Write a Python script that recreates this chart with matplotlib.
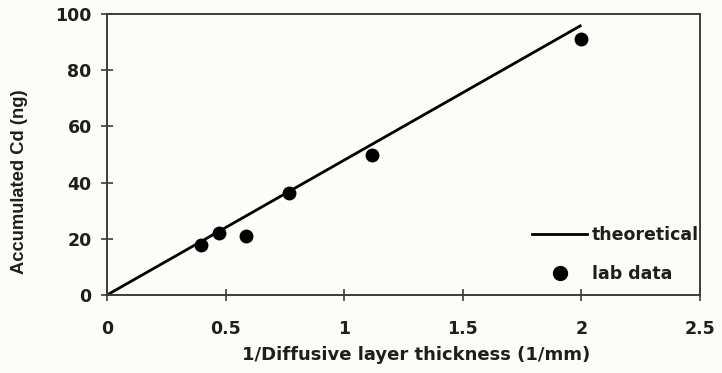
import matplotlib
matplotlib.use("Agg")
import matplotlib.pyplot as plt
from matplotlib.lines import Line2D

plt.rcParams['font.family'] = ['DejaVu Sans']

# Data
theory_x = [0, 2.0]
theory_y = [0, 96]
lab_x = [0.395, 0.473, 0.585, 0.767, 1.117, 2.0]
lab_y = [17.8, 22.0, 21.0, 36.2, 49.8, 91.0]
xticks = [0, 0.5, 1, 1.5, 2, 2.5]
xticklabels = ['0', '0.5', '1', '1.5', '2', '2.5']
yticks = [0, 20, 40, 60, 80, 100]

W, H = 722, 373
TXT = '#1e1e1e'
fig = plt.figure(figsize=(W/100, H/100), dpi=100, facecolor='#fcfcf8')
ax = fig.add_axes([107/W, 1-295/H, (700-107)/W, (295-14)/H])
ax.set_facecolor('#fcfcf8')

ax.plot(theory_x, theory_y, color='black', lw=2, solid_capstyle='butt')
ax.scatter(lab_x, lab_y, s=100, color='black', zorder=3, linewidths=0)

ax.set_xlim(0, 2.5)
ax.set_ylim(0, 100)
ax.set_xticks(xticks)
ax.set_xticklabels(xticklabels)
ax.set_yticks(yticks)
for s in ax.spines.values():
    s.set_color('#3c3c3c')
    s.set_linewidth(1.4)
ax.tick_params(direction='inout', length=8, width=1.2, color='#3c3c3c',
               labelsize=12.5)
ax.tick_params(axis='x', pad=14)
ax.tick_params(axis='y', pad=7)
for lab in ax.get_xticklabels() + ax.get_yticklabels():
    lab.set_fontweight('bold')
    lab.set_color(TXT)

fig.text(416/W, 1-355/H, '1/Diffusive layer thickness (1/mm)', ha='center', va='center',
         fontsize=13, fontweight='bold', color=TXT)
fig.text(20/W, 1-182/H, 'Accumulated Cd (ng)', ha='center', va='center', rotation=90,
         fontsize=13.2, fontweight='bold', color=TXT, family='Liberation Sans')

handles = [Line2D([0], [0], color='black', lw=2),
           Line2D([0], [0], marker='o', color='black', lw=0, markersize=10)]
leg = ax.legend(handles, ['theoretical', 'lab data'], loc='lower left',
                bbox_to_anchor=(532/W, 1-283/H), bbox_transform=fig.transFigure,
                frameon=False, handlelength=3.17, handletextpad=0.3, labelspacing=1.2,
                prop={'weight': 'bold', 'size': 12.5}, borderaxespad=0, borderpad=0)
for t in leg.get_texts():
    t.set_color(TXT)

fig.savefig('out.png', dpi=100, facecolor=fig.get_facecolor())
